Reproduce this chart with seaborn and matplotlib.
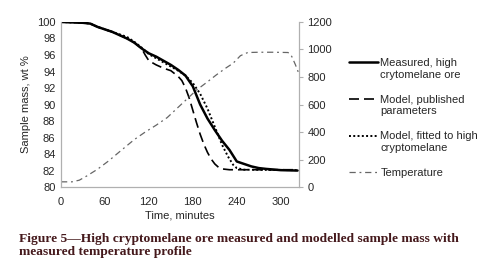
import numpy as np
import pandas as pd
import matplotlib
matplotlib.use("Agg")
import matplotlib.pyplot as plt
import seaborn as sns
from matplotlib.legend_handler import HandlerLine2D

# Measured mass, high cryptomelane ore
t_meas = [0, 30, 40, 50, 60, 70, 80, 90, 100, 110, 120, 130, 140, 150, 160, 170,
          180, 190, 200, 210, 220, 230, 240, 250, 260, 270, 280, 300, 323]
m_meas = [100, 99.9, 99.8, 99.4, 99.1, 98.8, 98.4, 98.0, 97.5, 96.8, 96.2, 95.8,
          95.3, 94.8, 94.2, 93.5, 92.2, 90.0, 88.3, 86.9, 85.6, 84.5, 83.1, 82.8,
          82.5, 82.3, 82.2, 82.05, 82.0]

# Model with published parameters
t_pub = [0, 30, 40, 50, 60, 70, 80, 90, 100, 110, 115, 120, 130, 140, 150, 160,
         165, 170, 175, 180, 185, 190, 195, 200, 205, 210, 215, 220, 230, 323]
m_pub = [100, 99.9, 99.8, 99.4, 99.1, 98.8, 98.4, 98.0, 97.5, 96.8, 96.0, 95.3,
         94.8, 94.4, 94.1, 93.4, 92.9, 92.0, 90.8, 89.3, 87.8, 86.4, 85.2, 84.2,
         83.4, 82.8, 82.4, 82.2, 82.1, 82.1]

# Model fitted to high cryptomelane
t_fit = [0, 30, 40, 50, 60, 70, 80, 90, 100, 110, 120, 130, 140, 150, 160, 170,
         180, 190, 200, 210, 220, 228, 235, 240, 250, 323]
m_fit = [100, 99.9, 99.8, 99.4, 99.1, 98.8, 98.5, 98.2, 97.6, 96.9, 96.1, 95.6,
         95.1, 94.6, 94.1, 93.5, 92.6, 91.3, 89.5, 87.3, 85.1, 83.7, 82.7, 82.3,
         82.1, 82.05]

# Measured temperature profile
t_temp = [0, 15, 25, 35, 50, 65, 80, 100, 115, 130, 145, 160, 170, 185, 200, 212,
          225, 235, 245, 255, 270, 290, 310, 315, 320, 324]
temp = [38, 38, 50, 80, 130, 190, 257, 345, 400, 450, 505, 580, 630, 705, 765,
        815, 865, 900, 955, 978, 980, 980, 978, 950, 890, 835]

x_ticks = [0, 60, 120, 180, 240, 300]
y_ticks = list(range(80, 101, 2))
y2_ticks = list(range(0, 1201, 200))

labels = ["Measured, high\ncrytomelane ore",
          "Model, published\nparameters",
          "Model, fitted to high\ncryptomelane",
          "Temperature"]


class FirstLineHandler(HandlerLine2D):
    """Put the legend line level with the first line of a two-line label."""

    def create_artists(self, legend, orig_handle, xdescent, ydescent,
                       width, height, fontsize, trans):
        artists = super().create_artists(legend, orig_handle, xdescent, ydescent,
                                         width, height, fontsize, trans)
        for a in artists:
            a.set_ydata(np.asarray(a.get_ydata()) + 0.6 * fontsize)
        return artists


sns.set_style("white")
plt.rcParams["font.family"] = ["Liberation Sans", "DejaVu Sans"]
plt.rcParams["font.size"] = 8

fig = plt.figure(figsize=(4.78, 2.68), dpi=100)
ax = fig.add_axes([0.1276, 0.302, 0.498, 0.616])
ax2 = ax.twinx()

sns.lineplot(x=t_meas, y=m_meas, ax=ax, color="black", lw=1.8, label=labels[0])
sns.lineplot(x=t_pub, y=m_pub, ax=ax, color="black", lw=1.2,
             dashes=(6, 3), label=labels[1])
sns.lineplot(x=t_fit, y=m_fit, ax=ax, color="black", lw=1.4,
             dashes=(1, 1.2), label=labels[2])
sns.lineplot(x=t_temp, y=temp, ax=ax2, color="#666666", lw=0.9,
             dashes=(5, 3, 1.5, 3), label=labels[3])

ax.set_xlim(0, 325)
ax.set_ylim(80, 100)
ax.set_xticks(x_ticks)
ax.set_yticks(y_ticks)
ax2.set_ylim(0, 1200)
ax2.set_yticks(y2_ticks)

ax.set_xlabel("Time, minutes", fontsize=8, labelpad=3)
ax.set_ylabel("Sample mass, wt %", fontsize=8, labelpad=4)
ax.tick_params(axis="y", length=0, labelsize=8, pad=4)
ax.tick_params(axis="x", length=0, labelsize=8, pad=7)
ax2.tick_params(axis="y", length=3, color="#b0b0b0", labelsize=8, pad=3)

for a in (ax, ax2):
    for side in ("left", "bottom", "right"):
        a.spines[side].set_color("#b0b0b0")
        a.spines[side].set_linewidth(0.8)
    a.spines["top"].set_visible(False)

h1, l1 = ax.get_legend_handles_labels()
h2, l2 = ax2.get_legend_handles_labels()
ax.get_legend().remove()
ax2.get_legend().remove()
handles = h1 + h2
hmap = {h: FirstLineHandler() for h, lab in zip(handles, l1 + l2) if "\n" in lab}
fig.legend(handles, l1 + l2, loc="upper left", bbox_to_anchor=(0.71, 0.82),
           frameon=False, fontsize=8, handlelength=2.6, handletextpad=0.2,
           labelspacing=1.35, handler_map=hmap)

caption = ("Figure 5\u2014High cryptomelane ore measured and modelled sample mass with\n"
           "measured temperature profile")
fig.text(0.04, 0.132, caption, family=["Liberation Serif", "DejaVu Serif"],
         fontweight="bold", fontsize=9.7, color="#45191c", va="top",
         linespacing=1.1)

fig.savefig("out.png", dpi=100)
